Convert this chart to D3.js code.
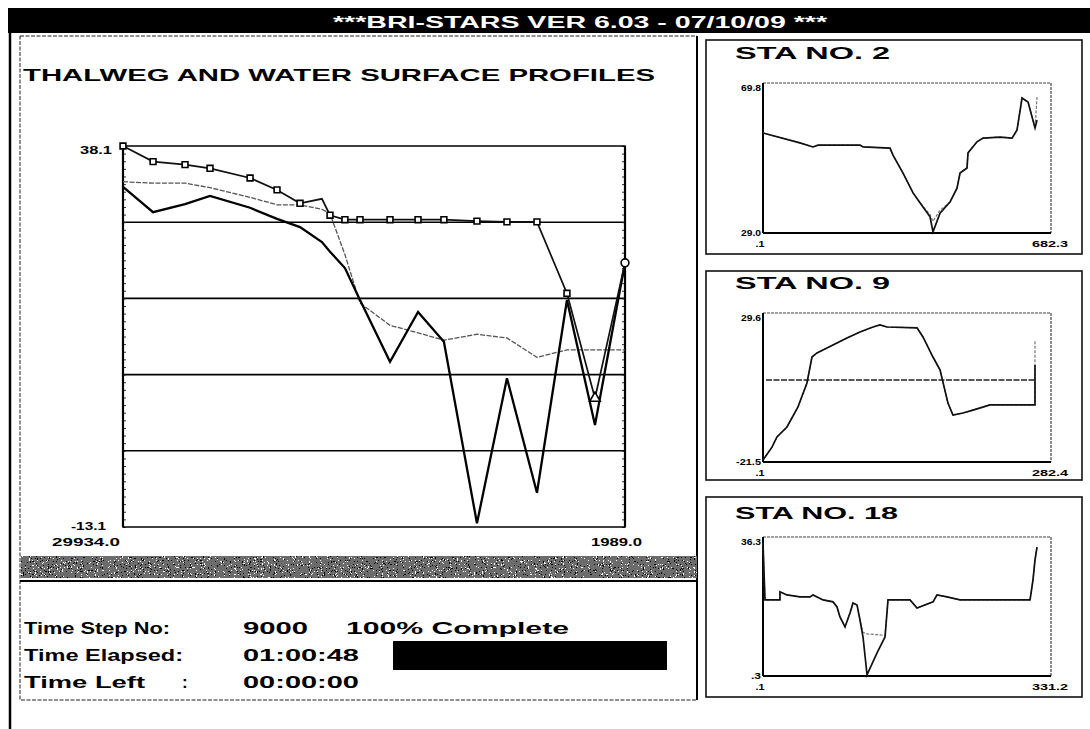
<!DOCTYPE html>
<html>
<head>
<meta charset="utf-8">
<script src="https://cdn.jsdelivr.net/npm/d3@7"></script>
<style>
  html, body { margin: 0; padding: 0; background: #fff; }
  svg { display: block; font-family: "Liberation Sans", Arial, sans-serif; }
</style>
</head>
<body>
<svg id="screen" width="1090" height="729"></svg>
<script>
// ---------- Longitudinal profile: river stations (ft) and elevations (ft) ----------
const stations = [29934, 28260, 26480, 25090, 22860, 21360, 20080, 18860, 18410, 17580,
                  16740, 15070, 13510, 12070, 10230, 8560, 6890, 5220, 3660, 1989];
const waterSurface   = [38.1, 36.0, 35.6, 35.1, 33.8, 32.2, 30.4, 31.0, 28.8, 28.2,
                        28.2, 28.2, 28.2, 28.2, 28.0, 27.9, 27.9, 18.3, 4.2, 22.4];
const thalwegInitial = [33.3, 33.1, 33.1, 32.5, 31.2, 30.2, 30.2, 29.6, 29.0, 23.5,
                        17.0, 14.0, 13.0, 12.0, 12.8, 12.3, 9.7, 10.7, 10.7, 10.7];
const thalwegCurrent = [32.6, 29.2, 30.3, 31.4, 29.8, 28.3, 27.2, 25.2, 23.9, 21.7,
                        17.4, 9.1, 15.8, 11.8, -12.6, 6.9, -8.5, 17.4, 0.6, 22.4];
const wsMarkers = ["square", "square", "square", "square", "square", "square", "square", "none", "square", "square",
                   "square", "square", "square", "square", "square", "square", "square", "square", "triangle", "circle"];
const profileYLabels = ["38.1", "-13.1"];
const profileXLabels = ["29934.0", "1989.0"];

// ---------- Cross sections: lateral distance (ft) and bed elevation (ft) ----------
const sta2Lateral = [0.1, 87.7, 118.5, 130.4, 229.9, 237.0, 301.0, 308.0, 331.8, 355.5, 372.0, 395.7, 402.8, 419.4,
                     443.0, 459.7, 466.8, 483.4, 485.7, 507.0, 521.3, 561.5, 590.0, 601.8, 613.7, 627.9, 644.5, 649.2];
const sta2BedCurrent = [56.2, 53.5, 52.4, 52.9, 52.9, 52.4, 52.1, 50.2, 45.3, 39.9, 37.2, 33.4, 29.3, 34.4,
                        37.4, 41.2, 45.3, 46.7, 50.8, 53.8, 54.8, 55.1, 54.8, 57.0, 65.7, 64.6, 57.6, 59.7];
const sta2BedInitial = [56.2, 53.5, 52.4, 52.9, 52.9, 52.4, 52.1, 50.2, 45.3, 39.9, 37.2, 34.0, 32.2, 35.2,
                        37.4, 41.2, 45.3, 46.7, 50.8, 53.8, 54.8, 55.1, 54.8, 57.0, 65.7, 64.6, 57.6, 66.0];
const sta2Labels = ["69.8", "29.0", ".1", "682.3"];

const sta9Lateral = [0.1, 8.9, 13.8, 23.6, 34.4, 43.2, 48.1, 53.0, 62.8, 82.4, 95.2, 107.9, 114.8,
                     121.6, 151.1, 156.9, 166.7, 173.6, 181.4, 186.3, 196.1, 205.9, 222.6, 266.7, 266.7];
const sta9BedCurrent = [-20.8, -16.4, -12.9, -9.5, -2.6, 5.6, 14.5, 15.9, 17.6, 21.0, 23.1, 24.8, 25.5,
                        24.8, 24.5, 21.4, 14.5, 10.1, -1.3, -5.4, -4.7, -3.7, -1.9, -1.9, 11.8];
const sta9BedInitial = [-20.8, -16.4, -12.9, -9.5, -2.6, 5.6, 14.5, 15.9, 17.6, 21.0, 23.1, 24.8, 25.5,
                        24.8, 24.5, 21.4, 14.5, 10.1, -1.3, -5.4, -4.7, -3.7, -1.9, -1.9, 20.4];
const sta9Water = 6.6;
const sta9Labels = ["29.6", "-21.5", ".1", "282.4"];

const sta18Lateral = [0.1, 2.4, 19.6, 19.6, 27.7, 42.6, 54.1, 57.6, 69.1, 80.6, 85.2, 88.6, 94.4, 100.1, 103.6, 108.2,
                      111.6, 115.1, 119.7, 131.2, 140.4, 143.8, 149.6, 169.1, 177.2, 195.6, 200.1, 211.6, 226.6,
                      307.1, 310.5, 312.8, 315.1];
const sta18BedCurrent = [34.7, 20.0, 20.0, 22.1, 21.3, 20.8, 20.8, 21.3, 20.0, 19.5, 18.2, 15.6, 13.0, 16.6, 19.2, 18.7,
                         14.8, 10.4, 0.6, 6.3, 10.4, 20.0, 20.0, 20.0, 17.9, 19.5, 21.3, 20.8, 20.0,
                         20.0, 25.2, 30.3, 33.7];
const sta18BedInitial = [34.7, 20.0, 20.0, 22.1, 21.3, 20.8, 20.8, 21.3, 20.0, 19.5, 18.2, 15.6, 13.0, 16.6, 19.2, 18.7,
                         14.8, 11.6, 11.2, 11.0, 10.8, 20.0, 20.0, 20.0, 17.9, 19.5, 21.3, 20.8, 20.0,
                         20.0, 25.2, 30.3, 33.7];
const sta18Labels = ["36.3", ".3", ".1", "331.2"];

// ---------- Status panel text ----------
const headerText = "***BRI-STARS  VER 6.03 - 07/10/09 ***";
const profileTitle = "THALWEG AND WATER SURFACE PROFILES";
const timeStep = "9000";
const percentDone = "100% Complete";
const timeElapsed = "01:00:48";
const timeLeft = "00:00:00";

// ================================================================
const svg = d3.select("#screen");

// speckled grey status strip
const defs = svg.append("defs");
const grain = defs.append("filter").attr("id", "grain")
  .attr("x", 0).attr("y", 0).attr("width", "100%").attr("height", "100%");
grain.append("feTurbulence").attr("type", "fractalNoise")
  .attr("baseFrequency", "0.85 0.7").attr("numOctaves", 2).attr("seed", 11).attr("result", "n");
grain.append("feColorMatrix").attr("in", "n").attr("type", "matrix")
  .attr("values", "0.33 0.33 0.33 0 0  0.33 0.33 0.33 0 0  0.33 0.33 0.33 0 0  0 0 0 0 1").attr("result", "g");
const ct = grain.append("feComponentTransfer").attr("in", "g").attr("result", "bw");
["feFuncR", "feFuncG", "feFuncB"].forEach(f => ct.append(f).attr("type", "discrete").attr("tableValues", "0 0 0.15 1 1"));
grain.append("feComposite").attr("in", "bw").attr("in2", "SourceGraphic").attr("operator", "in");

function txt(g, x, y, s, size, width, anchor, fill) {
  const t = g.append("text").attr("x", x).attr("y", y).text(s)
    .attr("font-size", size).attr("font-weight", "bold")
    .attr("text-anchor", anchor || "start").attr("fill", fill || "#000");
  if (width) t.attr("textLength", width).attr("lengthAdjust", "spacingAndGlyphs");
  return t;
}

// ---------- screen frame ----------
svg.append("rect").attr("x", 8).attr("y", 8).attr("width", 1082).attr("height", 25).attr("fill", "#000");
txt(svg, 333, 28, headerText, 16, 494, "start", "#fff");
svg.append("line").attr("x1", 10).attr("x2", 10).attr("y1", 8).attr("y2", 729)
  .attr("stroke", "#000").attr("stroke-width", 2.5);

// left (profile) window
svg.append("rect").attr("x", 20).attr("y", 36).attr("width", 677).attr("height", 664)
  .attr("fill", "none").attr("stroke", "#222").attr("stroke-width", 1).attr("stroke-dasharray", "4 1.5");
svg.append("line").attr("x1", 697).attr("x2", 697).attr("y1", 36).attr("y2", 700)
  .attr("stroke", "#000").attr("stroke-width", 2);

txt(svg, 23, 81, profileTitle, 17, 632);

// ---------- profile chart ----------
const P = { left: 123, top: 146, right: 625, bottom: 527 };
const yMax = +profileYLabels[0], yMin = +profileYLabels[1];
const x = d3.scaleLinear().domain([stations[0], stations[stations.length - 1]]).range([P.left, P.right]);
const y = d3.scaleLinear().domain([yMin, yMax]).range([P.bottom, P.top]);

const chart = svg.append("g");

// horizontal division lines (five equal bands)
const bands = 5;
const divisions = d3.range(1, bands).map(i => yMin + i * (yMax - yMin) / bands);
chart.selectAll("line.grid").data(divisions).join("line").attr("class", "grid")
  .attr("x1", P.left).attr("x2", P.right).attr("y1", d => y(d)).attr("y2", d => y(d))
  .attr("stroke", "#000").attr("stroke-width", 1.6);

// small inward ticks on both vertical axes
const minor = d3.range(0, 51).map(i => yMin + i * (yMax - yMin) / 50);
const axL = chart.append("g").attr("transform", `translate(${P.left},0)`)
  .call(d3.axisLeft(y).tickValues(minor).tickSize(-3).tickFormat(""));
const axR = chart.append("g").attr("transform", `translate(${P.right},0)`)
  .call(d3.axisRight(y).tickValues(minor).tickSize(-3).tickFormat(""));
[axL, axR].forEach(a => { a.select(".domain").remove(); a.selectAll("line").attr("stroke", "#333"); });

chart.append("rect").attr("x", P.left).attr("y", P.top)
  .attr("width", P.right - P.left).attr("height", P.bottom - P.top)
  .attr("fill", "none").attr("stroke", "#000").attr("stroke-width", 1.5);
chart.append("line").attr("x1", P.left).attr("x2", P.left).attr("y1", P.top).attr("y2", P.bottom)
  .attr("stroke", "#000").attr("stroke-width", 2.2);
chart.append("line").attr("x1", P.right).attr("x2", P.right).attr("y1", P.top).attr("y2", P.bottom)
  .attr("stroke", "#000").attr("stroke-width", 2.2);

const profileLine = d3.line().x((d, i) => x(stations[i])).y(d => y(d));

chart.append("path").datum(thalwegInitial).attr("d", profileLine)
  .attr("fill", "none").attr("stroke", "#555").attr("stroke-width", 1.3).attr("stroke-dasharray", "5 1.5");
chart.append("path").datum(thalwegCurrent).attr("d", profileLine)
  .attr("fill", "none").attr("stroke", "#000").attr("stroke-width", 2.3);
chart.append("path").datum(waterSurface).attr("d", profileLine)
  .attr("fill", "none").attr("stroke", "#111").attr("stroke-width", 1.7);

const symbolFor = { square: d3.symbolSquare, triangle: d3.symbolTriangle, circle: d3.symbolCircle };
chart.selectAll("path.mk")
  .data(waterSurface.map((v, i) => ({ v, i, kind: wsMarkers[i] })).filter(d => d.kind !== "none"))
  .join("path").attr("class", "mk")
  .attr("transform", d => `translate(${x(stations[d.i])},${y(d.v)})`)
  .attr("d", d => d3.symbol().type(symbolFor[d.kind]).size(d.kind === "square" ? 34 : 48)())
  .attr("fill", "#fff").attr("stroke", "#000").attr("stroke-width", 1.6);

txt(svg, 112, 154, profileYLabels[0], 11, 32, "end");
txt(svg, 106, 530, profileYLabels[1], 11, 35, "end");
txt(svg, 120, 546, profileXLabels[0], 11, 68, "end");
txt(svg, 642, 546, profileXLabels[1], 11, 51, "end");

// ---------- status strip and progress text ----------
svg.append("rect").attr("x", 21).attr("y", 556).attr("width", 676).attr("height", 22)
  .attr("fill", "#888").attr("filter", "url(#grain)");
svg.append("line").attr("x1", 20).attr("x2", 697).attr("y1", 581).attr("y2", 581)
  .attr("stroke", "#000").attr("stroke-width", 2);

txt(svg, 24, 634, "Time Step No:", 17, 146);
txt(svg, 243, 634, timeStep, 17, 65);
txt(svg, 346, 634, percentDone, 17, 223);
txt(svg, 24, 661, "Time Elapsed:", 17, 159);
txt(svg, 243, 661, timeElapsed, 17, 116);
svg.append("rect").attr("x", 393).attr("y", 641).attr("width", 274).attr("height", 29).attr("fill", "#000");
txt(svg, 24, 688, "Time Left", 17, 121);
txt(svg, 182, 688, ":", 17);
txt(svg, 243, 688, timeLeft, 17, 116);

// ---------- cross-section windows ----------
const sections = [
  { title: "STA NO. 2", titleW: 155, box: [706, 40, 1082, 254], titleY: 59, plot: [763, 83, 1051, 233],
    lateral: sta2Lateral, bedInit: sta2BedInitial, bedNow: sta2BedCurrent, water: null, labels: sta2Labels },
  { title: "STA NO. 9", titleW: 155, box: [706, 271, 1082, 480], titleY: 289, plot: [763, 313, 1051, 462],
    lateral: sta9Lateral, bedInit: sta9BedInitial, bedNow: sta9BedCurrent, water: sta9Water, labels: sta9Labels },
  { title: "STA NO. 18", titleW: 163, box: [706, 497, 1082, 697], titleY: 519, plot: [763, 537, 1051, 676],
    lateral: sta18Lateral, bedInit: sta18BedInitial, bedNow: sta18BedCurrent, water: null, labels: sta18Labels }
];

sections.forEach(s => {
  const g = svg.append("g");
  const [bx0, by0, bx1, by1] = s.box;
  const [px0, py0, px1, py1] = s.plot;
  g.append("rect").attr("x", bx0).attr("y", by0).attr("width", bx1 - bx0).attr("height", by1 - by0)
    .attr("fill", "none").attr("stroke", "#111").attr("stroke-width", 1.6);
  txt(g, 735, s.titleY, s.title, 17, s.titleW);

  const sx = d3.scaleLinear().domain([+s.labels[2], +s.labels[3]]).range([px0, px1]);
  const sy = d3.scaleLinear().domain([+s.labels[1], +s.labels[0]]).range([py1, py0]);

  // frame: solid left/bottom, lighter top/right
  g.append("line").attr("x1", px0).attr("x2", px1).attr("y1", py0).attr("y2", py0)
    .attr("stroke", "#444").attr("stroke-width", 1.2).attr("stroke-dasharray", "3 1");
  g.append("line").attr("x1", px1).attr("x2", px1).attr("y1", py0).attr("y2", py1)
    .attr("stroke", "#444").attr("stroke-width", 1.2).attr("stroke-dasharray", "3 1");
  g.append("line").attr("x1", px0).attr("x2", px0).attr("y1", py0).attr("y2", py1)
    .attr("stroke", "#000").attr("stroke-width", 2);
  g.append("line").attr("x1", px0).attr("x2", px1).attr("y1", py1).attr("y2", py1)
    .attr("stroke", "#000").attr("stroke-width", 2);

  const sec = d3.line().x((d, i) => sx(s.lateral[i])).y(d => sy(d));
  if (s.water !== null) {
    g.append("line").attr("x1", sx(s.lateral[0]) + 3).attr("x2", sx(s.lateral[s.lateral.length - 1]))
      .attr("y1", sy(s.water)).attr("y2", sy(s.water))
      .attr("stroke", "#222").attr("stroke-width", 1.5).attr("stroke-dasharray", "6 1.5");
  }
  g.append("path").datum(s.bedInit).attr("d", sec)
    .attr("fill", "none").attr("stroke", "#777").attr("stroke-width", 1.2).attr("stroke-dasharray", "3 1.5");
  g.append("path").datum(s.bedNow).attr("d", sec)
    .attr("fill", "none").attr("stroke", "#111").attr("stroke-width", 1.7);

  txt(g, 761, py0 + 8, s.labels[0], 9, 20, "end");
  txt(g, 761, py1 + 3, s.labels[1], 9, s.labels[1].length * 5, "end");
  txt(g, 760, py1 + 14, s.labels[2], 9, 9, "middle");
  txt(g, 1068, py1 + 14, s.labels[3], 9, 36, "end");
});
</script>
</body>
</html>
